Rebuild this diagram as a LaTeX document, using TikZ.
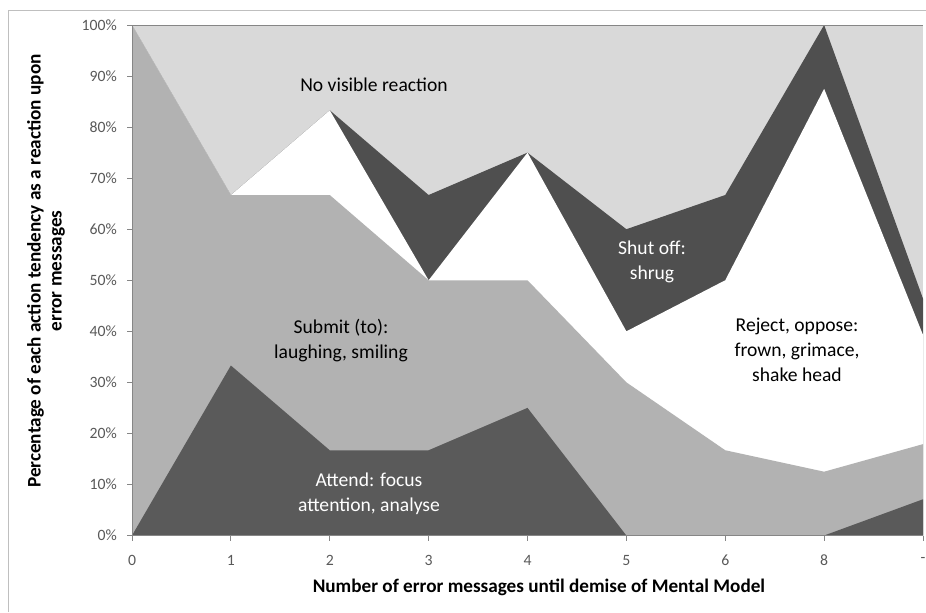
\documentclass[tikz,border=0pt]{standalone}
\usepackage{fontspec}
\setmainfont{Carlito}
\usetikzlibrary{positioning}

\definecolor{noreact}{HTML}{D9D9D9}
\definecolor{submitgray}{HTML}{B2B2B2}
\definecolor{attendgray}{HTML}{5A5A5A}
\definecolor{shutgray}{HTML}{4F4F4F}
\definecolor{axisgray}{HTML}{868686}
\definecolor{tickgray}{HTML}{595959}
\definecolor{framegray}{HTML}{BFBFBF}

\begin{document}
\begin{tikzpicture}[x=0.75pt,y=-0.75pt,
    every node/.style={inner sep=0pt},
    ticklabel/.style={font=\fontsize{11.8}{14}\selectfont,text=tickgray},
    arealabel/.style={align=center,font=\fontsize{14.7}{18.75}\selectfont},
    axistitle/.style={align=center,font=\bfseries\fontsize{14.4}{15.8}\selectfont},
    axisline/.style={draw=axisgray,line width=0.75pt}
]
\useasboundingbox (0,0) rectangle (926,612);

% Chart frame
\draw[framegray,line width=0.75pt] (8,612) -- (8,10) -- (926,10);

% Plot area: x = category index, y = percent
\begin{scope}[shift={(132,535.5)},xscale=98.875,yscale=-5.105]
% stacked areas, top layer first
\fill[noreact] (0,0) rectangle (8,100);
\fill[shutgray] (0,0) -- (0,100) -- (1,66.7) -- (2,83.3) -- (3,66.7) -- (4,75)
    -- (5,60) -- (6,66.7) -- (7,100) -- (8,46.4) -- (8,0) -- cycle;
\fill[white] (0,0) -- (0,100) -- (1,66.7) -- (2,83.3) -- (3,50) -- (4,75)
    -- (5,40) -- (6,50) -- (7,87.5) -- (8,39.3) -- (8,0) -- cycle;
\fill[submitgray] (0,0) -- (0,100) -- (1,66.7) -- (2,66.7) -- (3,50) -- (4,50)
    -- (5,30) -- (6,16.7) -- (7,12.5) -- (8,17.9) -- (8,0) -- cycle;
\fill[attendgray] (0,0) -- (1,33.3) -- (2,16.7) -- (3,16.7) -- (4,25)
    -- (5,0) -- (6,0) -- (7,0) -- (8,7.1) -- (8,0) -- cycle;

% axes
\draw[axisline] (0,100) -- (8,100);
\draw[axisline] (0,-1) -- (0,100);
\draw[axisline] (0,0) -- (8,0);
\foreach \p in {0,10,...,100} {
  \draw[axisline] (-0.05,\p) -- (0,\p);
  \node[ticklabel,anchor=east] (ytick\p) at (-0.15,\p) {\p\%};
}
\foreach \lab [count=\i from 0] in {0,1,2,3,4,5,6,8,-} {
  \draw[axisline] (\i,0) -- (\i,-1);
  \node[ticklabel] (xtick\i) at (\i,-4.8) {\lab};
}
\end{scope}

% Area labels
\node[arealabel] (lblnone) at (374,85) {No visible reaction};
\node[arealabel] (lblsubmit) at (341,341) {Submit (to):\\laughing, smiling};
\node[arealabel,text=white] (lblattend) at (369,494) {Attend: focus\\attention, analyse};
\node[arealabel,text=white] (lblshut) at (652,262) {Shut off:\\shrug};
\node[arealabel] (lblreject) at (797,350) {Reject, oppose:\\frown, grimace,\\shake head};

% Axis titles
\node[axistitle] (xtitle) at (539,587) {Number of error messages until demise of Mental Model};
\node[axistitle,rotate=90] (ytitle) at (46,271) {Percentage of each action tendency as a reaction upon\\error messages};

\end{tikzpicture}
\end{document}
